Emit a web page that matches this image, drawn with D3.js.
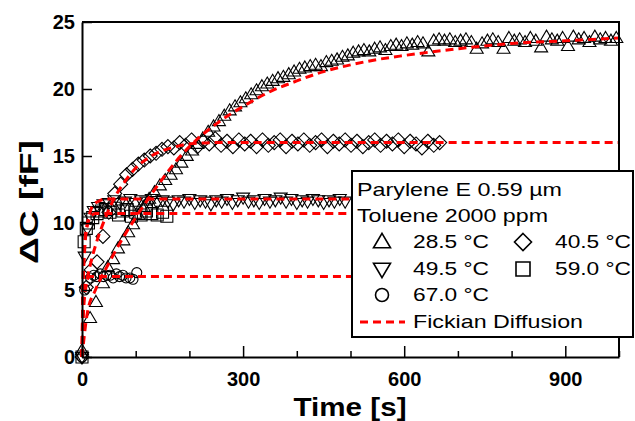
<!DOCTYPE html>
<html>
<head>
<meta charset="utf-8">
<script src="https://cdn.jsdelivr.net/npm/d3@7"></script>
<style>
  body { margin: 0; background: #fff; }
  svg { display: block; font-family: "Liberation Sans", Arial, sans-serif; }
</style>
</head>
<body>
<svg id="chart" width="635" height="421"></svg>
<script>
// measured data, [time s, dC fF]
var tri285 = [[0,0.5],[15,2.9],[26,4.1],[39,5.5],[48,6.7],[58,7.3],[67,8.1],[77,8.7],[86,9.3],[95,9.9],[105,10.6],[115,11.2],[125,11.8],[135,12.3],[145,12.8],[155,13.2],[165,13.6],[175,14.0],[185,14.5],[195,15.0],[205,15.4],[215,15.9],[225,16.3],[235,16.8],[245,17.2],[255,17.6],[265,18.0],[275,18.4],[285,18.7],[295,19.0],[305,19.3],[315,19.6],[325,19.9],[335,20.2],[345,20.4],[355,20.6],[365,20.8],[375,20.9],[385,21.1],[395,21.3],[405,21.5],[415,21.6],[425,21.7],[435,21.8],[445,21.7],[455,22.0],[465,22.1],[475,22.2],[485,22.4],[495,22.5],[505,22.7],[515,22.8],[525,22.9],[535,22.8],[545,23.0],[555,23.1],[565,22.9],[575,23.2],[585,23.3],[595,23.2],[605,23.4],[615,23.3],[625,23.5],[635,23.4],[645,22.8],[655,23.6],[665,23.7],[675,23.6],[685,23.7],[695,23.5],[705,23.6],[715,23.7],[725,23.5],[735,23.0],[745,23.4],[755,23.6],[765,23.7],[775,23.5],[785,23.0],[795,23.8],[805,23.6],[815,23.7],[825,23.5],[835,23.8],[845,23.6],[855,23.1],[865,23.9],[875,23.7],[885,23.6],[895,23.8],[905,23.2],[915,23.9],[925,23.7],[935,23.8],[945,23.5],[955,23.9],[965,23.7],[975,23.8],[985,23.6],[995,23.8]];

var dia405 = [[0,0],[8,5.2],[17,6.5],[28,7.1],[39,9.0],[50,10.8],[61,12.2],[72,12.9],[83,13.6],[94,14.0],[105,14.4],[116,14.7],[127,15.0],[138,15.2],[149,15.5],[160,15.7],[171,15.6],[182,16.0],[193,15.8],[204,16.2],[215,15.7],[226,16.1],[237,15.9],[248,16.3],[259,15.8],[270,16.1],[281,15.7],[292,16.2],[303,15.9],[314,16.1],[325,15.7],[336,16.2],[347,15.8],[358,16.0],[369,16.2],[380,15.7],[391,16.1],[402,15.9],[413,16.2],[424,15.8],[435,16.0],[446,16.2],[457,15.7],[468,16.1],[479,15.9],[490,16.2],[501,15.8],[512,16.1],[523,15.7],[534,16.0],[545,16.2],[556,15.8],[567,16.1],[578,15.9],[589,16.2],[600,15.7],[611,16.1],[622,15.9],[633,15.6],[644,16.1],[655,15.8],[666,16.0]];

var dtri495 = [[0,0],[5,7.5],[10,9.6],[16,10.4],[22,10.9],[30,11.2],[40,11.4],[50,11.5],[60,11.7],[70,11.5],[80,11.6],[90,11.8],[100,11.5],[110,11.7],[120,11.6],[130,11.8],[140,11.5],[150,11.7],[160,11.6],[170,11.4],[180,11.7],[190,11.6],[200,11.8],[210,11.5],[220,11.7],[230,11.6],[240,11.4],[250,11.7],[260,11.6],[270,11.8],[280,11.5],[290,11.7],[300,11.9],[310,11.6],[320,11.7],[330,11.5],[340,11.8],[350,11.6],[360,11.7],[370,11.9],[380,11.6],[390,11.8],[400,11.5],[410,11.7],[420,11.6],[430,11.8],[440,11.7],[450,11.5],[460,11.7],[470,11.6],[480,11.8],[490,11.6]];

var sq590 = [[0,0],[4,8.6],[8,9.6],[12,10.0],[20,10.4],[28,10.7],[36,10.9],[44,11.0],[52,10.8],[60,11.1],[68,10.6],[76,10.9],[84,11.0],[92,10.5],[100,10.8],[110,10.6],[120,10.9],[130,10.7],[140,10.6],[150,10.8],[158,10.5]];

var circ670 = [[0,0],[5,5.0],[10,5.7],[16,5.9],[22,6.1],[28,6.0],[34,6.2],[40,6.0],[46,6.1],[52,6.1],[58,5.9],[64,6.2],[70,6.0],[76,6.1],[82,5.9],[89,5.9],[95,5.8],[102,6.3]];

// Fickian diffusion fits
var fit285 = [[0,0],[10,3.3],[25,5.0],[50,7.0],[75,8.8],[100,10.4],[125,11.9],[150,13.3],[175,14.6],[200,15.7],[250,17.4],[300,18.7],[350,19.8],[400,20.6],[450,21.3],[500,21.8],[550,22.2],[600,22.5],[700,23.0],[800,23.4],[900,23.6],[1000,23.8]];
var fit405 = [[0,0],[3,3.5],[8,5.4],[15,6.8],[25,8.3],[35,9.5],[50,11.0],[65,12.2],[80,13.1],[100,14.1],[125,14.9],[150,15.4],[175,15.7],[200,15.9],[250,16.0],[1000,16.0]];
var fit495 = [[0,0],[2,5],[5,8],[10,9.9],[15,10.8],[20,11.3],[30,11.6],[45,11.8],[1000,11.8]];
var fit590 = [[0,0],[2,6],[5,8.6],[10,9.9],[15,10.4],[25,10.7],[1000,10.7]];
var fit670 = [[0,0],[2,3.5],[5,5.0],[10,5.8],[15,6.0],[1000,6.0]];

var xTicks = [0, 100, 200, 300, 400, 500, 600, 700, 800, 900, 1000];
var xLabels = [0, 300, 600, 900];
var yTicks = [0, 5, 10, 15, 20, 25];

var legendTitle = ["Parylene E 0.59 \u00b5m", "Toluene 2000 ppm"];
var seriesNames = ["28.5 \u00b0C", "40.5 \u00b0C", "49.5 \u00b0C", "59.0 \u00b0C", "67.0 \u00b0C"];
var fitName = "Fickian Diffusion";

var svg = d3.select("#chart");

var x = d3.scaleLinear().domain([0, 1000]).range([82, 619]);
var y = d3.scaleLinear().domain([0, 25]).range([357, 22]);

// marker shapes
function shape(type, s) {
  var h = s * 0.85;
  if (type == "up") return "M0," + (-h * 0.6) + "L" + (s / 2) + "," + (h * 0.4) + "L" + (-s / 2) + "," + (h * 0.4) + "Z";
  if (type == "down") return "M0," + (h * 0.6) + "L" + (s / 2) + "," + (-h * 0.4) + "L" + (-s / 2) + "," + (-h * 0.4) + "Z";
  if (type == "diamond") return "M0," + (-s / 2) + "L" + (s / 2) + ",0L0," + (s / 2) + "L" + (-s / 2) + ",0Z";
  if (type == "square") return "M" + (-s / 2) + "," + (-s / 2) + "h" + s + "v" + s + "h" + (-s) + "Z";
  var r = s / 2;
  return "M" + r + ",0A" + r + "," + r + " 0 1,1 " + (-r) + ",0A" + r + "," + r + " 0 1,1 " + r + ",0Z";
}

var series = [
  { data: tri285, type: "up", size: 13 },
  { data: dia405, type: "diamond", size: 14 },
  { data: dtri495, type: "down", size: 13 },
  { data: sq590, type: "square", size: 12 },
  { data: circ670, type: "circle", size: 10 }
];

var marks = svg.append("g");
series.forEach(function(s) {
  marks.append("g").selectAll("path")
    .data(s.data)
    .enter().append("path")
      .attr("transform", function(d) { return "translate(" + x(d[0]) + "," + y(d[1]) + ")"; })
      .attr("d", shape(s.type, s.size))
      .attr("fill", "none")
      .attr("stroke", "#000")
      .attr("stroke-width", 1.1);
});

var line = d3.line()
  .x(function(d) { return x(d[0]); })
  .y(function(d) { return y(d[1]); })
  .curve(d3.curveMonotoneX);

[fit285, fit405, fit495, fit590, fit670].forEach(function(f) {
  svg.append("path")
    .datum(f)
    .attr("d", line)
    .attr("fill", "none")
    .attr("stroke", "#ff0000")
    .attr("stroke-width", 3)
    .attr("stroke-dasharray", "8,5");
});

// axes
var xAxis = svg.append("g")
  .attr("transform", "translate(0," + y(0) + ")")
  .call(d3.axisBottom(x).tickValues(xTicks).tickSize(-6).tickSizeOuter(0).tickPadding(15)
    .tickFormat(function(d) { return xLabels.indexOf(d) >= 0 ? d : ""; }));
xAxis.selectAll(".tick line").attr("y2", function(d) { return d % 300 == 0 ? -11 : -6; });

var yAxis = svg.append("g")
  .attr("transform", "translate(" + x(0) + ",0)")
  .call(d3.axisLeft(y).tickValues(yTicks).tickSize(-10).tickSizeOuter(0).tickPadding(7));

[xAxis, yAxis].forEach(function(a) {
  a.select(".domain").attr("stroke-width", 2);
  a.selectAll(".tick line").attr("stroke-width", 1.5);
  a.selectAll("text")
    .attr("font-family", "'Liberation Sans', Arial, sans-serif")
    .attr("font-size", 20)
    .attr("font-weight", "bold")
    .attr("fill", "#000");
});

// frame top and right
svg.append("path")
  .attr("d", "M" + x(0) + "," + y(25) + "H" + x(1000) + "V" + y(0))
  .attr("fill", "none")
  .attr("stroke", "#000")
  .attr("stroke-width", 2);

// titles
svg.append("text")
  .attr("x", 350).attr("y", 416)
  .attr("text-anchor", "middle")
  .attr("font-size", 26).attr("font-weight", "bold")
  .attr("textLength", 113).attr("lengthAdjust", "spacingAndGlyphs")
  .text("Time [s]");

svg.append("text")
  .attr("transform", "translate(38,202) rotate(-90)")
  .attr("text-anchor", "middle")
  .attr("font-size", 26).attr("font-weight", "bold")
  .attr("textLength", 124).attr("lengthAdjust", "spacingAndGlyphs")
  .text("\u0394C [fF]");

// legend
var lg = svg.append("g");
lg.append("rect")
  .attr("x", 352).attr("y", 171).attr("width", 281).attr("height", 166)
  .attr("fill", "#fff").attr("stroke", "#000").attr("stroke-width", 2);

lg.selectAll("text.title")
  .data(legendTitle)
  .enter().append("text")
    .attr("class", "title")
    .attr("x", 357)
    .attr("y", function(d, i) { return 196 + i * 26; })
    .attr("font-size", 19)
    .attr("textLength", function(d, i) { return i == 0 ? 205 : 191; })
    .attr("lengthAdjust", "spacingAndGlyphs")
    .text(function(d) { return d; });

var legendPos = [
  { mx: 382, my: 242, tx: 413 },
  { mx: 523, my: 242, tx: 555 },
  { mx: 382, my: 269, tx: 413 },
  { mx: 523, my: 269, tx: 555 },
  { mx: 382, my: 295, tx: 413 }
];
var legendSize = [17, 17, 17, 14, 13];

seriesNames.forEach(function(name, i) {
  var p = legendPos[i];
  lg.append("path")
    .attr("transform", "translate(" + p.mx + "," + p.my + ")")
    .attr("d", shape(series[i].type, legendSize[i]))
    .attr("fill", "none").attr("stroke", "#000").attr("stroke-width", 1.6);
  lg.append("text")
    .attr("x", p.tx).attr("y", p.my + 6)
    .attr("font-size", 19)
    .attr("textLength", 76).attr("lengthAdjust", "spacingAndGlyphs")
    .text(name);
});

lg.append("line")
  .attr("x1", 360).attr("x2", 405).attr("y1", 322).attr("y2", 322)
  .attr("stroke", "#ff0000").attr("stroke-width", 3).attr("stroke-dasharray", "8,5");
lg.append("text")
  .attr("x", 413).attr("y", 328)
  .attr("font-size", 19)
  .attr("textLength", 170).attr("lengthAdjust", "spacingAndGlyphs")
  .text(fitName);
</script>
</body>
</html>
